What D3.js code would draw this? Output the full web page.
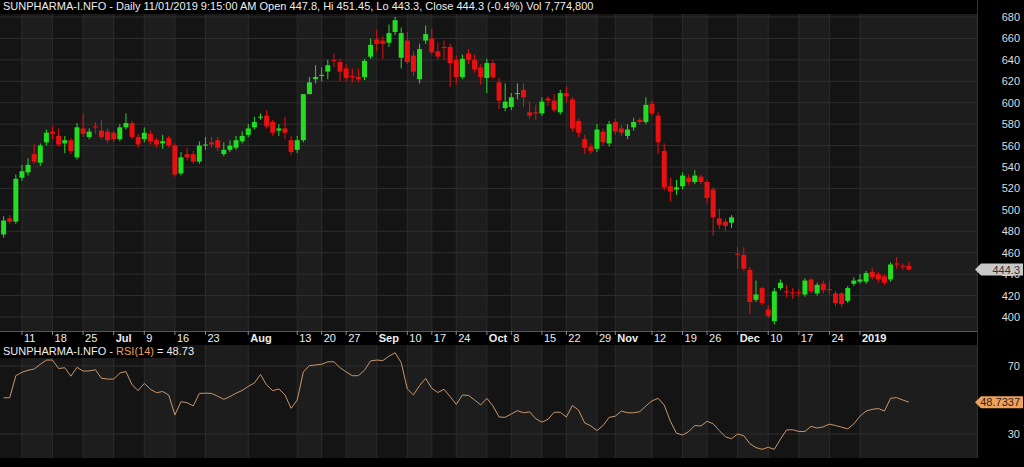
<!DOCTYPE html>
<html>
<head>
<meta charset="utf-8">
<script src="https://cdn.jsdelivr.net/npm/d3@7"></script>
<style>
  body { margin: 0; background: #000; }
  svg { display: block; font-family: "Liberation Sans", Arial, sans-serif; }
</style>
</head>
<body>
<svg id="chart"></svg>
<script>
// trading calendar (NSE, 6 Jun 2018 - 11 Jan 2019)
const holidays = ['2018-08-15', '2018-08-22', '2018-09-13', '2018-09-20', '2018-10-02',
  '2018-10-18', '2018-11-08', '2018-11-23', '2018-12-25'];
const fmt = d3.utcFormat('%Y-%m-%d');
const dates = d3.utcDays(new Date(Date.UTC(2018, 5, 6)), new Date(Date.UTC(2019, 0, 12)))
  .filter(d => d.getUTCDay() % 6 !== 0 && !holidays.includes(fmt(d)))
  .map(fmt);

const open = [477, 492, 489, 530, 535, 552, 544, 563, 573, 569, 562, 565, 549, 576, 568, 578, 574, 573, 572, 566,
  577, 581, 568, 566, 571, 565, 562, 567, 560, 534, 552, 552, 545, 560, 563, 565, 552, 556, 558, 564,
  570, 577, 586, 588, 582, 574, 576, 565, 556, 565, 608, 622, 625, 629, 640, 638, 632, 625, 624, 624,
  643, 659, 658, 656, 666, 642, 658, 644, 622, 658, 660, 648, 652, 652, 640, 624, 646, 640, 633, 623,
  637, 619, 595, 596, 608, 612, 591, 591, 590, 604, 602, 591, 609, 603, 583, 566, 559, 557, 573, 562,
  582, 576, 569, 577, 584, 582, 599, 588, 555, 522, 519, 522, 530, 526, 531, 526, 519, 492, 489, 488,
  459, 458, 444, 416, 427, 407, 396, 427, 424, 423, 423, 421, 435, 422, 431, 426, 422, 422, 415, 431,
  433, 433, 442, 440, 438, 435, 450, 448, 447.8];
const high = [494, 495, 533, 542, 548, 561, 562, 575, 578, 576, 569, 567, 581, 590, 576, 582, 584, 576, 574, 580,
  590, 583, 571, 577, 574, 567, 570, 569, 562, 554, 558, 555, 564, 568, 568, 568, 563, 565, 569, 573,
  580, 587, 590, 593, 584, 580, 587, 569, 569, 607, 624, 635, 633, 640, 646, 641, 636, 632, 632, 641,
  660, 668, 662, 673, 680, 670, 666, 648, 655, 672, 669, 656, 658, 655, 644, 645, 650, 645, 636, 641,
  640, 623, 618, 609, 618, 618, 601, 598, 605, 606, 608, 612, 615, 605, 585, 570, 562, 580, 576, 583,
  585, 579, 580, 586, 586, 605, 602, 591, 562, 530, 528, 535, 533, 537, 533, 528, 521, 501, 492, 495,
  465, 465, 447, 434, 428, 411, 427, 435, 430, 427, 426, 436, 436, 432, 434, 434, 424, 423, 429, 437,
  440, 443, 446, 442, 440, 451, 456, 450, 451.45];
const low = [474, 487, 487, 527, 532, 543, 541, 560, 566, 559, 553, 552, 547, 568, 566, 571, 566, 562, 563, 564,
  575, 566, 558, 563, 561, 558, 557, 558, 531, 532, 546, 543, 543, 556, 558, 555, 550, 554, 556, 562,
  568, 575, 584, 576, 569, 569, 566, 551, 553, 563, 608, 618, 620, 622, 633, 620, 620, 619, 619, 621,
  641, 648, 641, 652, 663, 632, 636, 625, 618, 655, 645, 640, 640, 615, 617, 622, 636, 628, 617, 609,
  622, 594, 592, 593, 603, 596, 585, 584, 588, 597, 591, 589, 600, 573, 568, 552, 552, 554, 560, 559,
  570, 569, 566, 574, 580, 580, 588, 552, 518, 508, 514, 519, 523, 524, 524, 506, 476, 482, 480, 483,
  445, 443, 403, 414, 411, 399, 393, 425, 418, 417, 419, 419, 422, 420, 422, 421, 410, 409, 413, 429,
  431, 431, 435, 432, 430, 433, 445, 444, 443.3];
const close = [490, 489, 529, 536, 542, 545, 560, 572, 571, 561, 565, 555, 577, 571, 573, 577, 568, 565, 566, 577,
  581, 568, 561, 572, 564, 561, 564, 560, 533, 549, 549, 545, 560, 561, 561, 558, 556, 560, 565, 569,
  576, 582, 587, 578, 572, 576, 572, 554, 565, 608, 619, 624, 626, 635, 639, 629, 623, 624, 622, 639,
  654, 655, 655, 665, 677, 665, 638, 629, 650, 664, 647, 643, 651, 637, 624, 641, 640, 631, 624, 637,
  624, 602, 601, 605, 609, 605, 588, 590, 601, 602, 593, 609, 606, 576, 572, 558, 555, 575, 563, 580,
  573, 572, 575, 582, 582, 598, 590, 563, 521, 517, 521, 532, 526, 532, 526, 511, 493, 486, 485, 493,
  458, 445, 414, 421, 413, 401, 424, 432, 423, 422, 422, 434, 424, 430, 425, 425, 413, 412, 427, 434,
  435, 441, 437, 435, 432, 449, 449, 447, 444.3];
const rsi = [51.3, 51.3, 64.3, 66.3, 67.5, 68.2, 71, 73.5, 73.5, 68.5, 69, 64, 69.2, 67, 67.1, 67.8, 62.8, 62.3, 62.3, 65.9,
  66.7, 59, 55.5, 59.8, 56.3, 54.3, 55, 52.9, 41.2, 49, 48.4, 46.5, 53.9, 54, 53.9, 52.2, 50.4, 52, 54, 55.6,
  58, 60, 65, 58.8, 55.5, 56.5, 53, 45.1, 50, 66.5, 70.2, 70.6, 71, 72.5, 72.5, 69, 66.5, 64.3, 64.3, 67.5,
  73, 73.5, 73.2, 75.8, 77.8, 72, 56.5, 53, 58.5, 62.7, 56.9, 54.4, 56.3, 52, 47.4, 52.9, 52.7, 50, 47.1, 51,
  46.5, 40, 39.8, 41.8, 43.7, 42.5, 43, 39, 37, 38.6, 42.8, 42.8, 40, 46.8, 44, 36.5, 34.8, 32, 35, 39.8,
  40.5, 43.5, 42.5, 42.5, 43.1, 46.5, 49.5, 51, 47, 37.5, 30.5, 29.4, 31.4, 35, 34.7, 37.5, 36, 32, 28.4, 27.2,
  30, 29, 24.3, 22, 21, 22.2, 21, 27, 32.4, 32.5, 31.5, 31.5, 34.5, 33.5, 34.2, 35.8, 35, 34, 33, 36,
  40.5, 43.5, 44.5, 45, 43.5, 51, 51.4, 50, 48.73];
const tickDates = ['2018-06-11', '2018-06-18', '2018-06-25', '2018-07-02', '2018-07-09', '2018-07-16', '2018-07-23',
  '2018-08-01', '2018-08-13', '2018-08-20', '2018-08-27', '2018-09-03', '2018-09-10', '2018-09-17', '2018-09-24',
  '2018-10-01', '2018-10-08', '2018-10-15', '2018-10-22', '2018-10-29', '2018-11-01', '2018-11-12', '2018-11-19',
  '2018-11-26', '2018-12-03', '2018-12-10', '2018-12-17', '2018-12-24', '2019-01-01'];
const tickLabels = ['11', '18', '25', 'Jul', '9', '16', '23', 'Aug', '13', '20', '27', 'Sep', '10', '17', '24',
  'Oct', '8', '15', '22', '29', 'Nov', '12', '19', '26', 'Dec', '10', '17', '24', '2019'];
const priceTicks = [400, 420, 440, 460, 480, 500, 520, 540, 560, 580, 600, 620, 640, 660, 680];
const rsiTicks = [30, 70];

const width = 1024, height = 467;
const plotRight = 977;
const main = { top: 14, bottom: 331 };
const sub = { top: 345, bottom: 458 };

const svg = d3.select('#chart').attr('width', width).attr('height', height);
svg.append('rect').attr('width', width).attr('height', height).attr('fill', '#000');

// x: one slot per trading day
const x = d3.scaleLinear().domain([0, 1]).range([3.6, 3.6 + 6.117]);
const xi = d => x(dates.indexOf(d));
const y = d3.scaleLinear().domain([400, 680]).range([317, 17]);
const yr = d3.scaleLinear().domain([30, 70]).range([434, 366]);

const tickX = tickDates.map(xi);
const bandEdges = [0, ...tickX, plotRight];

function drawPanel(top, bottom, gridYs) {
  const g = svg.append('g');
  g.append('rect').attr('x', 0).attr('y', top).attr('width', plotRight).attr('height', bottom - top).attr('fill', '#141414');
  // alternating weekly bands
  d3.pairs(bandEdges).forEach(([a, b], i) => {
    if (i % 2 === 0) return;
    g.append('rect').attr('x', a).attr('y', top).attr('width', b - a).attr('height', bottom - top).attr('fill', '#1d1d1d');
  });
  g.selectAll('.vg').data(tickX).enter().append('line')
    .attr('x1', d => d).attr('x2', d => d).attr('y1', top).attr('y2', bottom)
    .attr('stroke', '#2b2b2b').attr('stroke-width', 1);
  g.selectAll('.hg').data(gridYs).enter().append('line')
    .attr('x1', 0).attr('x2', plotRight).attr('y1', d => d).attr('y2', d => d)
    .attr('stroke', '#2e2e2e').attr('stroke-width', 1);
  return g;
}

drawPanel(main.top, main.bottom, priceTicks.map(y));
drawPanel(sub.top, sub.bottom, rsiTicks.map(yr));

// candles
const cg = svg.append('g');
dates.forEach((d, i) => {
  const up = close[i] >= open[i];
  const col = up ? '#22dd22' : '#e81010';
  const cx = x(i);
  cg.append('line').attr('x1', cx).attr('x2', cx).attr('y1', y(high[i])).attr('y2', y(low[i]))
    .attr('stroke', col).attr('stroke-width', 1);
  const top = y(Math.max(open[i], close[i])), bot = y(Math.min(open[i], close[i]));
  cg.append('rect').attr('x', cx - 2.5).attr('width', 5)
    .attr('y', top).attr('height', Math.max(1, bot - top)).attr('fill', col);
});

// RSI line
svg.append('path')
  .datum(rsi)
  .attr('d', d3.line().x((d, i) => x(i)).y(d => yr(d)))
  .attr('fill', 'none').attr('stroke', '#c8966a').attr('stroke-width', 1);

// right axis
svg.append('line').attr('x1', plotRight + 0.5).attr('x2', plotRight + 0.5).attr('y1', 0).attr('y2', sub.bottom)
  .attr('stroke', '#333');
svg.selectAll('.pt').data(priceTicks).enter().append('text')
  .attr('x', 1020).attr('y', d => y(d) + 4).attr('text-anchor', 'end')
  .attr('fill', '#ddd').attr('font-size', '11px').text(d => d);
svg.selectAll('.rt').data(rsiTicks).enter().append('text')
  .attr('x', 1020).attr('y', d => yr(d) + 4).attr('text-anchor', 'end')
  .attr('fill', '#ddd').attr('font-size', '11px').text(d => d);

function valueTag(yy, label, fill, textCol) {
  const g = svg.append('g').attr('transform', `translate(975, ${yy})`);
  g.append('path').attr('d', 'M0,0 L6,-6 L48,-6 L48,6 L6,6 Z').attr('fill', fill);
  g.append('text').attr('x', 45).attr('y', 4).attr('text-anchor', 'end')
    .attr('font-size', '11px').attr('fill', textCol).text(label);
}
valueTag(y(close[close.length - 1]), '444.3', '#c8c8c8', '#333');
valueTag(yr(rsi[rsi.length - 1]), '48.7337', '#f0a25a', '#222');

// date strip
svg.append('rect').attr('x', 0).attr('y', main.bottom).attr('width', plotRight).attr('height', sub.top - main.bottom - 1)
  .attr('fill', '#000');
svg.append('line').attr('x1', 0).attr('x2', plotRight).attr('y1', main.bottom + 0.5).attr('y2', main.bottom + 0.5)
  .attr('stroke', '#555');
tickX.forEach((tx, i) => {
  const isMonth = isNaN(+tickLabels[i]) || tickLabels[i] === '2019';
  svg.append('line').attr('x1', tx).attr('x2', tx).attr('y1', main.bottom).attr('y2', main.bottom + 4)
    .attr('stroke', '#888');
  svg.append('text').attr('x', tx + 2).attr('y', main.bottom + 11)
    .attr('fill', '#eee').attr('font-size', '11px').attr('font-weight', isMonth ? 'bold' : 'normal')
    .text(tickLabels[i]);
});

// titles
const t1 = svg.append('g');
t1.append('rect').attr('x', 0).attr('y', 0).attr('width', 470).attr('height', 13).attr('fill', '#000');
t1.append('text').attr('x', 3).attr('y', 10).attr('fill', '#eee').attr('font-size', '11px')
  .text('SUNPHARMA-I.NFO - Daily 11/01/2019 9:15:00 AM Open 447.8, Hi 451.45, Lo 443.3, Close 444.3 (-0.4%) Vol 7,774,800');

const t2 = svg.append('g');
t2.append('rect').attr('x', 0).attr('y', sub.top).attr('width', 176).attr('height', 13).attr('fill', '#000');
const tt = t2.append('text').attr('x', 3).attr('y', sub.top + 10).attr('font-size', '11px').attr('fill', '#eee');
tt.append('tspan').text('SUNPHARMA-I.NFO - ');
tt.append('tspan').attr('fill', '#f0a25a').text('RSI(14)');
tt.append('tspan').text(' = 48.73');
</script>
</body>
</html>
